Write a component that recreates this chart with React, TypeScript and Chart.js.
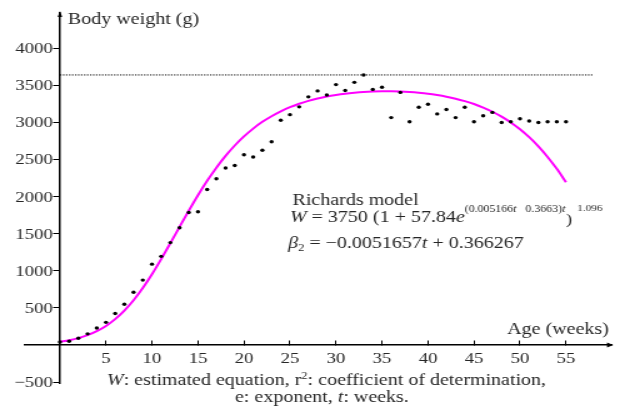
import React, { useEffect, useRef } from "react";
import { Chart, registerables } from "chart.js";

Chart.register(...registerables);

// ---- data ----
const weeks = [
  0, 1, 2, 3, 4, 5, 6, 7, 8, 9, 10, 11, 12, 13, 14, 15, 16, 17, 18, 19, 20, 21, 22, 23, 24, 25, 26, 27,
  28, 29, 30, 31, 32, 33, 34, 35, 36, 37, 38, 39, 40, 41, 42, 43, 44, 45, 46, 47, 48, 49, 50, 51, 52, 53,
  54, 55,
];
const observedWeight = [
  40, 50, 90, 150, 230, 305, 425, 550, 710, 875, 1090, 1195, 1380, 1580, 1785, 1795, 2095, 2240, 2385,
  2420, 2565, 2535, 2625, 2740, 3030, 3105, 3210, 3345, 3425, 3370, 3510, 3430, 3540, 3640, 3445, 3475,
  3065, 3405, 3010, 3205, 3245, 3115, 3175, 3065, 3205, 3010, 3090, 3135, 3000, 3010, 3050, 3020, 3000,
  3010, 3010, 3010,
];
const fittedWeight = [
  43, 64, 92, 132, 186, 257, 349, 464, 603, 767, 954, 1158, 1373, 1593, 1810, 2019, 2213, 2390, 2549,
  2689, 2811, 2917, 3008, 3084, 3150, 3205, 3252, 3291, 3323, 3350, 3371, 3388, 3401, 3411, 3417, 3420,
  3420, 3417, 3410, 3400, 3387, 3369, 3347, 3320, 3287, 3248, 3200, 3144, 3078, 3000, 2908, 2801, 2677,
  2535, 2374, 2194,
];
const maxLineWeeks = [0, 58];
const maxLineWeight = 3640;
const xTickValues = [5, 10, 15, 20, 25, 30, 35, 40, 45, 50, 55];
const yTickValues = [-500, 500, 1000, 1500, 2000, 2500, 3000, 3500, 4000];
const yAxisTitle = "Body weight (g)";
const xAxisTitle = "Age (weeks)";
const modelName = "Richards model";

// ---- layout ----
const OUT_W = 620;
const OUT_H = 413;
const SX = 1.25; // reference is horizontally stretched
const IN_W = OUT_W / SX;
const FONT = '"Liberation Serif", "Times New Roman", serif';
const TEXT = "#262626";

type Run = { text: string; size: number; italic?: boolean; dy?: number; gap?: number };

function drawRuns(ctx: CanvasRenderingContext2D, x: number, y: number, runs: Run[]) {
  let cx = x;
  for (const r of runs) {
    ctx.font = `${r.italic ? "italic " : ""}${r.size}px ${FONT}`;
    ctx.fillText(r.text, cx, y + (r.dy || 0));
    cx += ctx.measureText(r.text).width + (r.gap || 0);
  }
}

const decorPlugin = {
  id: "decor",
  afterDraw(chart: any) {
    const ctx: CanvasRenderingContext2D = chart.ctx;
    const xs = chart.scales.x;
    const ys = chart.scales.y;
    const x0 = xs.getPixelForValue(0);
    const y0 = ys.getPixelForValue(0);
    const area = chart.chartArea;
    ctx.save();
    // arrow heads
    ctx.fillStyle = "#000";
    ctx.beginPath();
    ctx.moveTo(area.right + 1, y0);
    ctx.lineTo(area.right - 4, y0 - 2.6);
    ctx.lineTo(area.right - 4, y0 + 2.6);
    ctx.closePath();
    ctx.fill();
    ctx.beginPath();
    ctx.moveTo(x0, area.top - 2);
    ctx.lineTo(x0 - 1.8, area.top + 4);
    ctx.lineTo(x0 + 1.8, area.top + 4);
    ctx.closePath();
    ctx.fill();

    // y tick labels (from the y scale's ticks)
    ctx.fillStyle = TEXT;
    ctx.font = `15px ${FONT}`;
    ctx.textAlign = "right";
    ctx.textBaseline = "middle";
    for (const t of ys.ticks) {
      const label = String(t.value).replace("-", "\u2212");
      ctx.fillText(label, x0 - 5.6, ys.getPixelForValue(t.value) + 1);
    }

    ctx.textBaseline = "alphabetic";
    ctx.textAlign = "left";
    // axis titles
    ctx.font = `16px ${FONT}`;
    ctx.fillText(yAxisTitle, x0 + 6.4, 24);
    ctx.textAlign = "right";
    ctx.fillText(xAxisTitle, area.right - 2.5, y0 - 11);
    ctx.textAlign = "left";

    // model annotation
    ctx.font = `16px ${FONT}`;
    ctx.fillText(modelName, 234, 205);
    drawRuns(ctx, 232, 222, [
      { text: "W", size: 16, italic: true },
      { text: " = 3750 (1 + 57.84", size: 16 },
      { text: "e", size: 16, italic: true },
      { text: "(0.005166", size: 9.5, dy: -10 },
      { text: "t", size: 9.5, dy: -10, italic: true },
      { text: "   0.3663)", size: 9.5, dy: -10 },
      { text: "t", size: 9.5, dy: -10, italic: true, gap: 0.5 },
      { text: ")", size: 15, dy: 2, gap: 4 },
      { text: "1.096", size: 9, dy: -11 },
    ]);
    drawRuns(ctx, 230.5, 248, [
      { text: "\u03b2", size: 16, italic: true },
      { text: "2", size: 10, dy: 3 },
      { text: " = \u22120.0051657", size: 16 },
      { text: "t", size: 16, italic: true },
      { text: " + 0.366267", size: 16 },
    ]);

    // footnote
    drawRuns(ctx, 85.6, 385, [
      { text: "W", size: 16, italic: true },
      { text: ": estimated equation, r", size: 16 },
      { text: "2", size: 10, dy: -6 },
      { text: ": coefficient of determination,", size: 16 },
    ]);
    drawRuns(ctx, 188, 402, [
      { text: "e: exponent, ", size: 16 },
      { text: "t", size: 16, italic: true },
      { text: ": weeks.", size: 16 },
    ]);
    ctx.restore();
  },
};

export default function App() {
  const canvasRef = useRef<HTMLCanvasElement | null>(null);

  useEffect(() => {
    const canvas = canvasRef.current;
    if (!canvas) return;
    const chart = new Chart(canvas, {
      type: "scatter",
      data: {
        datasets: [
          {
            label: "Observed",
            data: weeks.map((w, i) => ({ x: w, y: observedWeight[i] })),
            pointRadius: 1.7,
            pointBackgroundColor: "#000",
            pointBorderWidth: 0,
            showLine: false,
          },
          {
            label: "Richards model",
            data: weeks.map((w, i) => ({ x: w, y: fittedWeight[i] })),
            showLine: true,
            borderColor: "#ff00ff",
            borderWidth: 2,
            pointRadius: 0,
            cubicInterpolationMode: "monotone",
          },
          {
            label: "Maximum",
            data: maxLineWeeks.map((w) => ({ x: w, y: maxLineWeight })),
            showLine: true,
            borderColor: "#000",
            borderWidth: 1,
            borderDash: [1.2, 1.2],
            pointRadius: 0,
          },
        ],
      } as any,
      options: {
        responsive: false,
        animation: false,
        devicePixelRatio: 1,
        layout: { padding: { left: 20, right: IN_W - 489.6, top: 13, bottom: OUT_H - 383.2 } },
        plugins: { legend: { display: false }, tooltip: { enabled: false } },
        scales: {
          x: {
            type: "linear",
            min: -3.8,
            max: 60,
            position: { y: 0 } as any,
            afterBuildTicks: (s: any) => {
              s.ticks = xTickValues.map((v) => ({ value: v }));
            },
            grid: { display: true, drawOnChartArea: false, drawTicks: true, tickLength: -5, color: "#000", lineWidth: 1 },
            border: { display: true, color: "#000", width: 1.5 },
            ticks: { color: TEXT, font: { family: FONT, size: 15 }, padding: 10, autoSkip: false, maxRotation: 0 },
          },
          y: {
            type: "linear",
            min: -515,
            max: 4475,
            position: { x: 0 } as any,
            afterBuildTicks: (s: any) => {
              s.ticks = yTickValues.map((v) => ({ value: v }));
            },
            grid: { display: true, drawOnChartArea: false, drawTicks: true, tickLength: 4.5, color: "#000", lineWidth: 1 },
            border: { display: true, color: "#000", width: 1.5 },
            ticks: { display: false, font: { family: FONT, size: 15 }, autoSkip: false },
          },
        },
      },
      plugins: [decorPlugin],
    });
    return () => chart.destroy();
  }, []);

  return (
    <div style={{ position: "absolute", left: 0, top: 0, width: OUT_W, height: OUT_H, background: "#fff" }}>
      <canvas
        ref={canvasRef}
        width={IN_W}
        height={OUT_H}
        style={{ width: OUT_W + "px", height: OUT_H + "px", display: "block" }}
      />
    </div>
  );
}
